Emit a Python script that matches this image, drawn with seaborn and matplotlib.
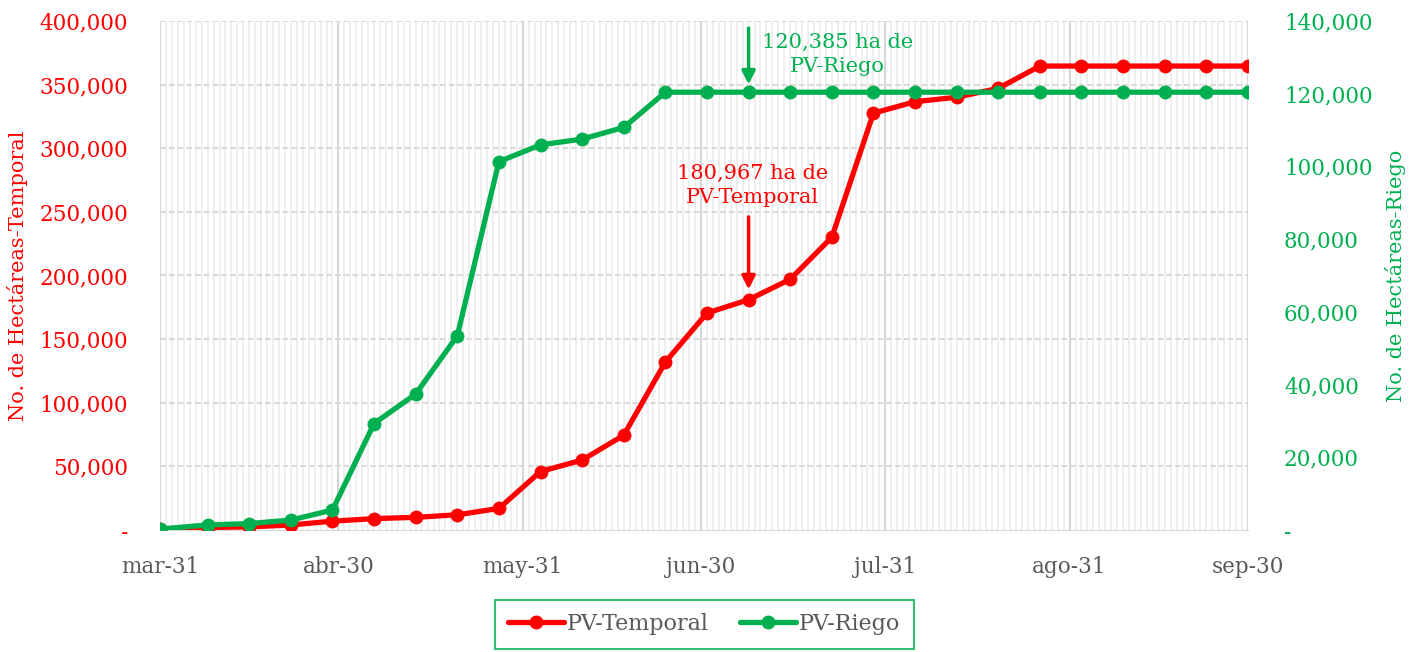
import pandas as pd
import numpy as np
import matplotlib.pyplot as plt
import matplotlib.dates as mdates
import matplotlib.ticker as mticker
from matplotlib.lines import Line2D
import seaborn as sns

# ── Data ──────────────────────────────────────────────────────────────────────
fechas = [pd.Timestamp("2020-03-31")] + list(pd.date_range("2020-04-08", periods=26, freq="7D"))

temporal = [500, 2000, 2500, 4000, 7000, 9000, 10000, 12000, 17000,
            46000, 55000, 74500, 132000, 170500, 180967, 197000, 230000,
            327500, 336500, 340000, 347000, 364500, 364500, 364500,
            364500, 364500, 364500]

riego = [300, 1400, 1800, 2750, 5500, 29300, 37400, 53400, 101300,
         105900, 107500, 110700, 120385, 120385, 120385, 120385, 120385,
         120385, 120385, 120385, 120385, 120385, 120385, 120385,
         120385, 120385, 120385]

mes_fechas = ["2020-03-31", "2020-04-30", "2020-05-31", "2020-06-30",
              "2020-07-31", "2020-08-31", "2020-09-30"]
mes_labels = ["mar-31", "abr-30", "may-31", "jun-30", "jul-31", "ago-31", "sep-30"]

df = pd.DataFrame({"fecha": fechas, "PV-Temporal": temporal, "PV-Riego": riego})

# ── Style ─────────────────────────────────────────────────────────────────────
sns.set_style("white")
plt.rcParams['font.family'] = ['DejaVu Serif']
plt.rcParams['font.size'] = 15

ROJO = '#FF0000'
VERDE = '#00B050'
GRIS = '#595959'

fig, ax = plt.subplots(figsize=(14.09, 6.52), dpi=100)
fig.subplots_adjust(left=0.1136, right=0.8857, top=0.968, bottom=0.187)
ax2 = ax.twinx()

# red axis underneath (holds the grid), green axis on top
ax.set_zorder(1)
ax2.set_zorder(2)
ax.patch.set_visible(False)
ax2.patch.set_visible(False)

sns.lineplot(data=df, x="fecha", y="PV-Temporal", ax=ax, color=ROJO,
             linewidth=3.8, marker='o', markersize=10, markeredgewidth=0, zorder=3)
sns.lineplot(data=df, x="fecha", y="PV-Riego", ax=ax2, color=VERDE,
             linewidth=3.8, marker='o', markersize=10, markeredgewidth=0, zorder=3)

fmt = mticker.FuncFormatter(lambda v, p: "-" if v == 0 else f"{int(v):,}")

ax.set_ylim(0, 400000)
ax.yaxis.set_major_locator(mticker.MultipleLocator(50000))
ax.yaxis.set_major_formatter(fmt)
ax2.set_ylim(0, 140000)
ax2.yaxis.set_major_locator(mticker.MultipleLocator(20000))
ax2.yaxis.set_major_formatter(fmt)

ax.set_xlim(pd.Timestamp("2020-03-31"), pd.Timestamp("2020-09-30"))
ax2.set_xlim(ax.get_xlim())
ax.set_xticks([pd.Timestamp(d) for d in mes_fechas])
ax.set_xticklabels(mes_labels)
ax.xaxis.set_minor_locator(mdates.DayLocator())

# ── Grid (drawn on the lower axis) ────────────────────────────────────────────
ax.grid(False)
ax2.grid(False)
for d in pd.date_range("2020-03-31", "2020-09-30", freq="D"):
    ax.axvline(d, color='#ececec', linewidth=1.2, zorder=0)
for d in mes_fechas:
    ax.axvline(pd.Timestamp(d), color='#d6d6d6', linewidth=1.5, zorder=0.5)
for v in range(50000, 400001, 50000):
    ax.axhline(v, color='#d9d9d9', linewidth=1.4,
               linestyle=(0, (3, 1.5)), zorder=0.5)

for s in ['top', 'left', 'right']:
    ax.spines[s].set_visible(False)
    ax2.spines[s].set_visible(False)
ax.spines['bottom'].set_color('#d9d9d9')
ax2.spines['bottom'].set_visible(False)

ax.tick_params(axis='x', which='major', colors='#d9d9d9', labelcolor=GRIS,
               length=6, labelsize=15.5, pad=13)
ax.tick_params(axis='x', which='minor', length=0)
ax.tick_params(axis='y', colors=ROJO, labelcolor=ROJO, length=0, labelsize=15.5, pad=23)
ax2.tick_params(axis='y', colors=VERDE, labelcolor=VERDE, length=0, labelsize=15.5, pad=26)

ax.set_xlabel("")
ax.set_ylabel("No. de Hectáreas-Temporal", color=ROJO, fontsize=15, labelpad=8)
ax2.set_ylabel("No. de Hectáreas-Riego", color=VERDE, fontsize=15, labelpad=9)

# ── Annotations ───────────────────────────────────────────────────────────────
x_anot = fechas[14]
ax2.annotate("", xy=(x_anot, 122500), xytext=(x_anot, 138000),
             arrowprops=dict(arrowstyle='-|>', color=VERDE, lw=2.5,
                             mutation_scale=20, shrinkA=0, shrinkB=0))
ax2.text(x_anot + pd.Timedelta(days=15), 130650, "120,385 ha de\nPV-Riego",
         color=VERDE, fontsize=15, ha='center', va='center', linespacing=1.35)

ax.annotate("", xy=(x_anot, 189000), xytext=(x_anot, 246000),
            arrowprops=dict(arrowstyle='-|>', color=ROJO, lw=2.5,
                            mutation_scale=20, shrinkA=0, shrinkB=0))
ax.text(x_anot + pd.Timedelta(days=0.7), 270700, "180,967 ha de\nPV-Temporal",
        color=ROJO, fontsize=15, ha='center', va='center', linespacing=1.35)

# ── Legend ────────────────────────────────────────────────────────────────────
handles = [Line2D([], [], color=ROJO, lw=3.8, marker='o', markersize=9),
           Line2D([], [], color=VERDE, lw=3.8, marker='o', markersize=9)]
leg = fig.legend(handles, ["PV-Temporal", "PV-Riego"], loc='upper center',
                 bbox_to_anchor=(0.4997, 0.080), ncol=2, frameon=True,
                 fancybox=False, edgecolor=VERDE, fontsize=16,
                 handlelength=2.5, handletextpad=0.15, columnspacing=1.4,
                 borderpad=0.6, borderaxespad=0, labelcolor=GRIS)
leg.get_frame().set_linewidth(1.5)

fig.savefig("out.png", dpi=100)
